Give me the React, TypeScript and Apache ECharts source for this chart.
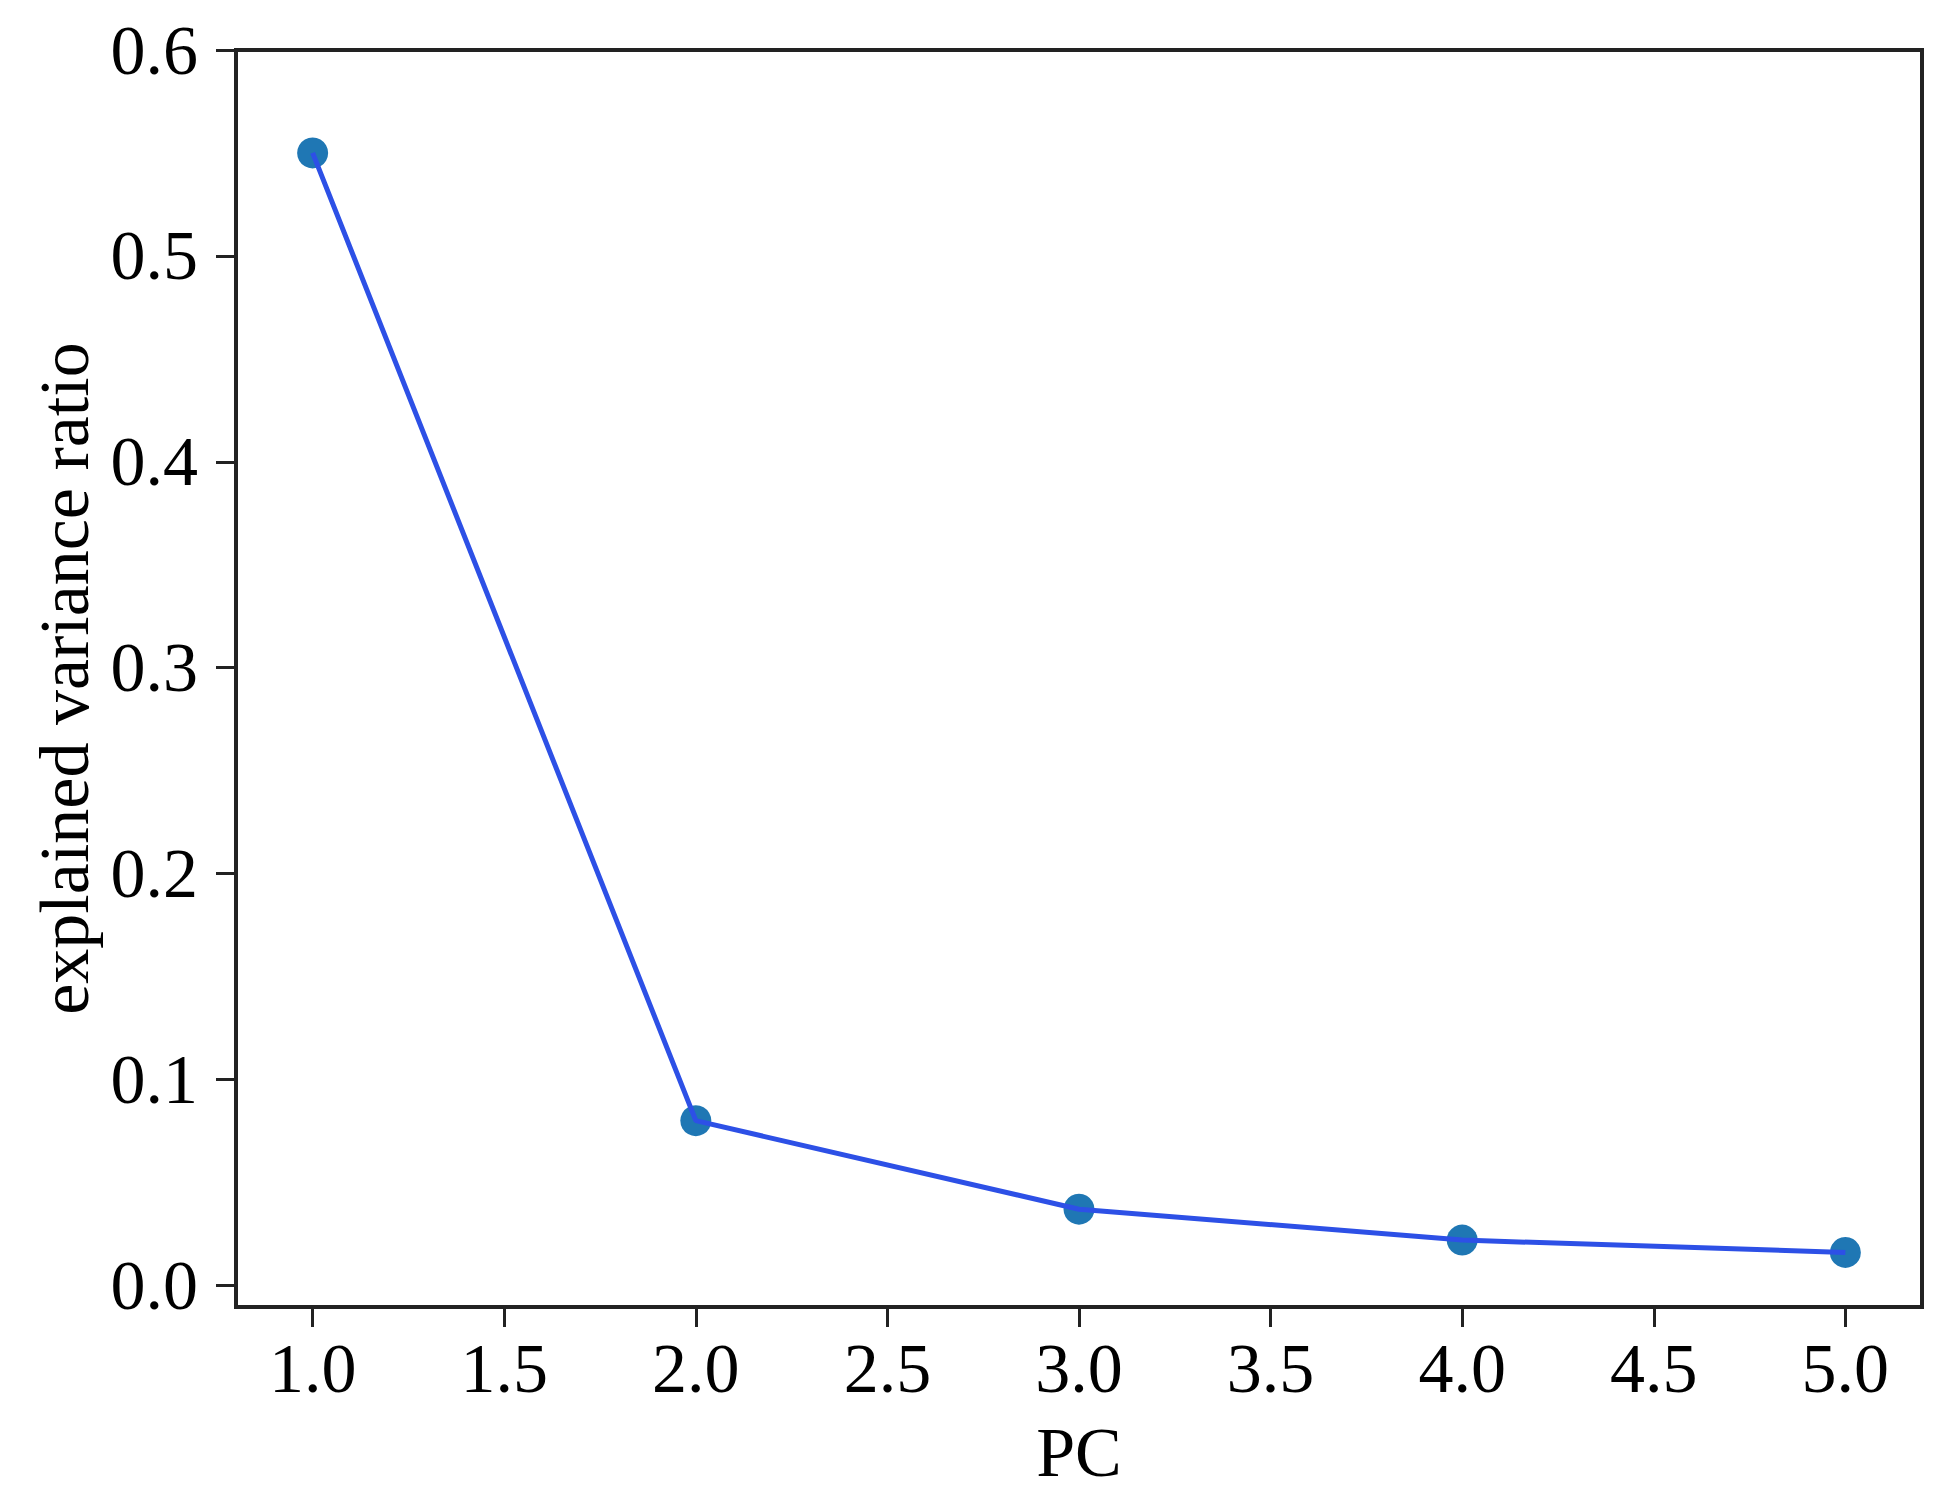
import React, { useEffect, useRef } from "react";
import * as echarts from "echarts";

const pcs = [1, 2, 3, 4, 5];
const explainedVarianceRatio = [0.55, 0.08, 0.037, 0.022, 0.016];
const xTicks = [1.0, 1.5, 2.0, 2.5, 3.0, 3.5, 4.0, 4.5, 5.0];
const yTicks = [0.0, 0.1, 0.2, 0.3, 0.4, 0.5, 0.6];
const xTitle = "PC";
const yTitle = "explained variance ratio";

const FONT = "'Liberation Serif', 'Times New Roman', serif";
const AXIS_COLOR = "#222222";

export default function App() {
  const ref = useRef<HTMLDivElement>(null);
  useEffect(() => {
    if (!ref.current) return;
    const chart = echarts.init(ref.current, null, { renderer: "svg" });
    const points = pcs.map((p, i) => [p, explainedVarianceRatio[i]]);
    chart.setOption({
      animation: false,
      backgroundColor: "#ffffff",
      grid: {
        left: 236,
        right: 20,
        top: 50,
        bottom: 200,
        show: true,
        borderColor: AXIS_COLOR,
        borderWidth: 4,
        backgroundColor: "transparent",
      },
      xAxis: {
        type: "value",
        min: 0.8,
        max: 5.2,
        name: xTitle,
        nameLocation: "middle",
        nameGap: 110,
        nameTextStyle: { fontFamily: FONT, fontSize: 70, color: "#000" },
        axisLine: { show: true, onZero: false, lineStyle: { color: AXIS_COLOR, width: 4 } },
        axisTick: {
          show: true,
          customValues: xTicks,
          length: 20,
          lineStyle: { color: AXIS_COLOR, width: 3 },
        },
        axisLabel: {
          customValues: xTicks,
          formatter: (v: number) => v.toFixed(1),
          fontFamily: FONT,
          fontSize: 70,
          color: "#000",
          margin: 26,
        },
        splitLine: { show: false },
      },
      yAxis: {
        type: "value",
        min: -0.0105,
        max: 0.6,
        name: yTitle,
        nameLocation: "middle",
        nameGap: 135,
        nameTextStyle: { fontFamily: FONT, fontSize: 70, color: "#000" },
        axisLine: { show: true, onZero: false, lineStyle: { color: AXIS_COLOR, width: 4 } },
        axisTick: {
          show: true,
          customValues: yTicks,
          length: 20,
          lineStyle: { color: AXIS_COLOR, width: 3 },
        },
        axisLabel: {
          customValues: yTicks,
          formatter: (v: number) => v.toFixed(1),
          fontFamily: FONT,
          fontSize: 70,
          color: "#000",
          margin: 38,
        },
        splitLine: { show: false },
      },
      series: [
        {
          type: "scatter",
          data: points,
          symbol: "circle",
          symbolSize: 31,
          itemStyle: { color: "#1f77b4", opacity: 1 },
          z: 1,
        },
        {
          type: "line",
          data: points,
          showSymbol: false,
          symbol: "none",
          lineStyle: { color: "#2d50e6", width: 5 },
          z: 2,
        },
      ],
    });
    return () => chart.dispose();
  }, []);
  return (
    <div
      ref={ref}
      style={{ position: "fixed", left: 0, top: 0, width: 1942, height: 1507, background: "#fff" }}
    />
  );
}
